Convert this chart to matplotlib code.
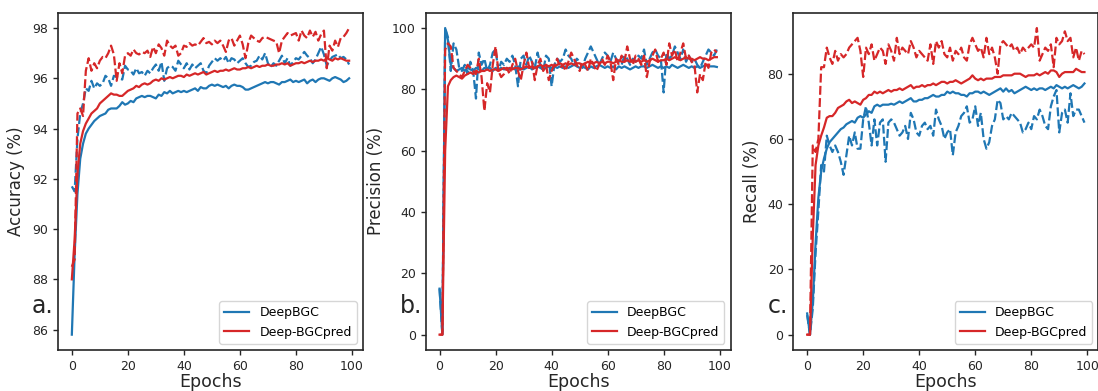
import numpy as np
import matplotlib.pyplot as plt

# epochs
epochs = list(range(100))

# accuracy (%)
acc_deepbgc_train = [85.8, 89.0, 91.4, 92.8, 93.4, 93.8, 94.0, 94.15, 94.3, 94.4,
                     94.5, 94.55, 94.6, 94.75, 94.8, 94.8, 94.8, 94.9, 95.05, 94.95,
                     95.0, 95.1, 95.05, 95.2, 95.25, 95.3, 95.25, 95.3, 95.3, 95.25,
                     95.2, 95.35, 95.3, 95.45, 95.4, 95.5, 95.4, 95.45, 95.5, 95.45,
                     95.5, 95.45, 95.5, 95.55, 95.6, 95.5, 95.65, 95.6, 95.6, 95.7,
                     95.75, 95.7, 95.75, 95.7, 95.65, 95.7, 95.6, 95.7, 95.75, 95.7,
                     95.7, 95.65, 95.55, 95.55, 95.6, 95.65, 95.7, 95.75, 95.8, 95.85,
                     95.8, 95.85, 95.85, 95.8, 95.75, 95.85, 95.85, 95.9, 95.95, 95.85,
                     95.9, 95.85, 95.9, 95.95, 95.8, 95.9, 95.95, 95.85, 95.95, 96.0,
                     96.0, 95.95, 95.9, 96.0, 96.05, 96.0, 95.95, 95.85, 95.9, 96.0]
acc_deepbgc_val = [91.7, 91.5, 93.6, 94.6, 95.0, 95.6, 95.5, 95.9, 95.6, 95.8,
                   95.7, 95.8, 96.1, 96.0, 95.7, 96.1, 96.05, 96.0, 95.95, 96.5,
                   96.35, 96.3, 96.15, 96.4, 96.2, 96.25, 96.1, 96.3, 96.2, 96.4,
                   96.55, 96.3, 96.65, 95.9, 96.4, 96.5, 96.45, 96.3, 96.7, 96.55,
                   96.4, 96.6, 96.35, 96.55, 96.4, 96.5, 96.6, 96.3, 96.2, 96.5,
                   96.65, 96.8, 96.7, 96.8, 96.7, 96.85, 96.6, 96.8, 96.75, 96.6,
                   96.7, 96.8, 96.6, 96.45, 96.5, 96.65, 96.7, 96.9, 96.75, 97.0,
                   96.6, 96.45, 96.6, 96.5, 96.7, 96.9, 96.6, 96.8, 96.5, 96.65,
                   96.8, 96.75, 96.9, 97.05, 96.9, 96.8, 96.6, 96.75, 97.0, 97.25,
                   96.95, 96.5, 96.7, 96.85, 96.9, 96.95, 96.8, 96.85, 96.75, 96.55]
acc_pred_train = [88.0, 89.6, 92.2, 93.4, 93.9, 94.2, 94.4, 94.6, 94.7, 94.8,
                  95.0, 95.1, 95.2, 95.3, 95.4, 95.35, 95.35, 95.3, 95.3, 95.4,
                  95.5, 95.55, 95.6, 95.7, 95.65, 95.75, 95.8, 95.75, 95.8, 95.9,
                  95.95, 95.9, 96.0, 95.95, 96.0, 96.05, 96.0, 96.05, 96.1, 96.1,
                  96.05, 96.15, 96.1, 96.15, 96.2, 96.15, 96.2, 96.25, 96.15, 96.2,
                  96.25, 96.3, 96.25, 96.3, 96.3, 96.35, 96.3, 96.35, 96.4, 96.35,
                  96.35, 96.4, 96.4, 96.45, 96.4, 96.45, 96.5, 96.45, 96.5, 96.5,
                  96.55, 96.5, 96.5, 96.55, 96.55, 96.6, 96.55, 96.6, 96.5, 96.55,
                  96.6, 96.6, 96.65, 96.6, 96.65, 96.7, 96.65, 96.7, 96.7, 96.75,
                  96.7, 96.8, 96.75, 96.7, 96.8, 96.75, 96.8, 96.75, 96.7, 96.7]
acc_pred_val = [88.5, 88.8, 94.6, 94.8, 94.5, 96.3, 96.8, 96.3, 96.6, 96.4,
                96.7, 96.85, 96.8, 97.0, 97.3, 96.95, 95.9, 96.6, 96.2, 96.9,
                97.0, 96.9, 97.15, 97.0, 96.95, 97.05, 97.0, 97.1, 96.85, 97.25,
                97.0, 97.35, 97.2, 96.9, 97.5, 97.3, 97.2, 97.3, 96.9, 97.0,
                97.3, 97.25, 97.4, 97.3, 97.35, 97.3, 97.45, 97.6, 97.4, 97.45,
                97.35, 97.5, 97.4, 97.5, 97.3, 97.05, 97.5, 97.6, 97.3, 97.5,
                97.7, 97.35, 96.8, 97.4, 97.7, 97.6, 97.5, 97.45, 97.6, 97.65,
                97.6, 97.55, 97.5, 97.45, 97.0, 97.5, 97.65, 97.8, 97.7, 97.75,
                97.8, 97.5, 97.9, 97.7, 97.6, 97.9, 97.65, 97.85, 97.5, 97.75,
                97.9, 96.4, 97.3, 97.1, 97.5, 97.25, 97.6, 97.65, 97.8, 98.0]

# precision (%)
prec_deepbgc_train = [15, 0, 100, 96, 88, 87, 86, 86.5, 87, 86,
                      87, 86.5, 86, 87, 86.5, 86, 87, 86.5, 87, 86,
                      87, 86.5, 87, 86.5, 87, 86.5, 87, 86.5, 87.5, 87,
                      86.5, 87, 87.5, 86.5, 87, 87.5, 87, 86.5, 87, 87.5,
                      87, 87.5, 87, 87.5, 87, 87.5, 87, 87.5, 88, 87.5,
                      87, 87.5, 87, 86.5, 87.5, 87, 87.5, 88, 87.5, 87,
                      87.5, 87, 87.5, 86.5, 87.5, 87, 87.5, 87, 86.5, 87,
                      87.5, 87, 87.5, 87.5, 87, 87.5, 88, 87.5, 87, 87.5,
                      87, 87.5, 87, 88, 87.5, 87, 87.5, 88, 87.5, 87,
                      87.5, 87, 87.5, 87, 87.5, 88, 87.5, 87.5, 87.5, 87.3]
prec_deepbgc_val = [15, 0, 100, 97, 86, 95, 93, 87, 86, 88,
                    85, 89, 86, 77, 92, 88, 90, 86, 88, 92,
                    93, 86, 89, 88, 90, 89, 91, 88, 81, 90,
                    91, 88, 91, 89, 87, 92, 88, 86, 91, 90,
                    81, 88, 90, 89, 90, 93, 91, 90, 88, 90,
                    89, 87, 90, 92, 94, 92, 90, 88, 90, 92,
                    91, 89, 92, 90, 89, 88, 91, 90, 88, 90,
                    89, 91, 90, 93, 88, 90, 92, 93, 91, 90,
                    79, 92, 90, 91, 94, 92, 90, 93, 89, 91,
                    89, 90, 88, 87, 89, 91, 93, 92, 91, 93]
prec_pred_train = [0, 0, 60, 81, 83, 84, 84.5, 84, 83.5, 84.5,
                   85, 85.5, 85, 86, 85.5, 86, 86, 86.5, 86, 86.5,
                   86.5, 86, 86.5, 87, 86.5, 87, 86.5, 87, 87, 86.5,
                   87, 87.5, 87, 87.5, 87, 87.5, 88, 87.5, 88, 87.5,
                   88, 87.5, 88, 88.5, 88, 88.5, 88, 88.5, 88, 88.5,
                   88.5, 88, 88.5, 89, 88.5, 88.5, 89, 88.5, 89, 88.5,
                   89, 89, 88.5, 89, 89.5, 89, 89, 89.5, 89, 89.5,
                   89, 89.5, 89, 89.5, 89, 89.5, 90, 89.5, 89, 89.5,
                   89.5, 90, 89.5, 90, 90.5, 90, 89.5, 90, 90.5, 90,
                   90, 89.5, 90, 90.5, 90, 90, 89.5, 90, 90.5, 90.5]
prec_pred_val = [0, 0, 93, 95, 94, 87, 86, 85, 84, 86,
                 88, 87, 86, 85, 90, 84, 73, 82, 79, 88,
                 94, 86, 84, 85, 87, 85, 88, 90, 86, 83,
                 88, 92, 87, 89, 83, 88, 90, 86, 88, 83,
                 86, 88, 90, 87, 88, 86, 89, 92, 90, 88,
                 86, 89, 88, 86, 90, 88, 86, 88, 90, 88,
                 91, 89, 83, 90, 88, 91, 89, 94, 90, 88,
                 91, 90, 88, 91, 84, 89, 91, 93, 89, 90,
                 92, 88, 95, 91, 93, 89, 92, 95, 90, 91,
                 89, 88, 79, 85, 83, 89, 87, 92, 93, 92]

# recall (%)
rec_deepbgc_train = [6.5, 0, 10, 28, 42, 50, 54, 57, 59, 60,
                     61, 62, 63, 63.5, 64.5, 65, 65.5, 65, 66.5, 67,
                     66.5, 67.5, 68.5, 68, 70, 70.5, 70, 70.5, 70.5, 70.5,
                     70.8, 70.5, 71, 71.5, 71, 71.5, 72, 72.5, 71.5, 71.5,
                     72, 72, 72.5, 72.5, 73, 73.5, 73, 73, 73.5, 73.5,
                     74.5, 74, 74.5, 74, 74, 73.5, 73.5, 73, 74, 74,
                     74.5, 74.5, 74, 74.5, 74, 73.5, 74, 74.5, 75, 75.5,
                     74.5, 75.5, 74.5, 75, 74, 74.5, 75, 75.5, 76, 75.5,
                     75, 75.5, 75, 75.5, 75.5, 75, 75.5, 76, 75.5, 76.5,
                     76, 75.5, 76, 75.5, 76, 76.5, 76, 75.5, 76, 77]
rec_deepbgc_val = [6, 0, 8, 25, 38, 52, 50, 61, 58, 56,
                   58, 56, 53, 49, 55, 61, 58, 62, 57, 57,
                   66, 70, 65, 58, 66, 58, 65, 66, 53, 65,
                   66, 65, 63, 61, 62, 64, 60, 68, 66, 62,
                   61, 64, 65, 63, 64, 61, 69, 66, 64, 60,
                   62, 63, 55, 62, 64, 67, 68, 70, 65, 66,
                   70, 64, 68, 60, 57, 59, 64, 66, 72, 71,
                   66, 67, 66, 68, 67, 66, 65, 62, 63, 65,
                   63, 67, 66, 69, 67, 64, 63, 70, 73, 75,
                   62, 68, 69, 65, 74, 67, 69, 69, 67, 65]
rec_pred_train = [0, 0, 30, 52, 58, 61, 63.5, 66.5, 67, 67,
                  68, 69.5, 70, 70.5, 71.5, 72, 71, 71.5, 71, 70.5,
                  72, 72.5, 73.5, 73.5, 74.5, 74, 74.5, 74, 74.5, 75,
                  74.5, 75, 75, 75.5, 75, 75.5, 76, 76.5, 75.5, 76,
                  76, 76.5, 76, 76.5, 76.5, 77, 76.5, 77, 77.5, 77.5,
                  77, 77.5, 77.5, 78, 77.5, 77, 77.5, 78, 78.5, 79.5,
                  78.5, 78, 78.5, 78, 78.5, 78.5, 78.5, 79, 79, 79,
                  79.5, 79.5, 79.5, 79.5, 80, 80, 80, 79.5, 79, 79.5,
                  79.5, 79.5, 80, 79.5, 80, 80.5, 80, 81, 81, 80.5,
                  79, 80, 80.5, 80.5, 80.5, 80.5, 81.5, 81, 80.5, 80.5]
rec_pred_val = [0, 0, 58, 56, 60, 82, 82, 88, 85, 83,
                87, 84, 86, 85, 86, 88, 89, 90, 91, 87,
                79, 88, 86, 89, 84, 86, 88, 87, 83, 89,
                87, 84, 91, 86, 88, 87, 86, 90, 88, 85,
                87, 86, 85, 84, 89, 83, 90, 88, 90, 86,
                85, 88, 84, 87, 86, 88, 85, 84, 89, 91,
                89, 87, 88, 85, 91, 86, 88, 85, 80, 89,
                90, 89, 88, 89, 87, 88, 86, 88, 87, 88,
                89, 88, 94, 84, 86, 88, 87, 89, 82, 91,
                89, 90, 93, 90, 91, 85, 88, 84, 87, 86]

models = ["DeepBGC", "Deep-BGCpred"]
colors = ["#1f77b4", "#d62728"]
ylabels = ["Accuracy (%)", "Precision (%)", "Recall (%)"]
panel_tags = ["a.", "b.", "c."]
panels = [
    (acc_deepbgc_train, acc_deepbgc_val, acc_pred_train, acc_pred_val),
    (prec_deepbgc_train, prec_deepbgc_val, prec_pred_train, prec_pred_val),
    (rec_deepbgc_train, rec_deepbgc_val, rec_pred_train, rec_pred_val),
]

fig = plt.figure(figsize=(10.98, 3.91), dpi=100)
lefts = [0.0528, 0.3877, 0.7225]
dark = "0.15"

for i in range(3):
    ax = fig.add_axes([lefts[i], 0.1049, 0.2778, 0.8626])
    a_tr, a_va, b_tr, b_va = panels[i]
    ax.plot(epochs, a_tr, color=colors[0], lw=1.6, label=models[0])
    ax.plot(epochs, a_va, color=colors[0], lw=1.6, dashes=(4, 1.5))
    ax.plot(epochs, b_tr, color=colors[1], lw=1.6, label=models[1])
    ax.plot(epochs, b_va, color=colors[1], lw=1.6, dashes=(4, 1.5))
    ax.set_xlabel("Epochs", fontsize=12.5, color=dark, labelpad=0.5)
    ax.set_ylabel(ylabels[i], fontsize=12, color=dark, labelpad=5)
    ax.set_xticks([0, 20, 40, 60, 80, 100])
    ax.tick_params(labelsize=9, colors=dark, length=3.5, width=1)
    for s in ax.spines.values():
        s.set_color(dark)
        s.set_linewidth(1.2)
    ax.text(-0.085, 0.13, panel_tags[i], transform=ax.transAxes,
            fontsize=17, color=dark, ha="left", va="center")
    leg = ax.legend(loc="lower right", fontsize=9, frameon=True, fancybox=True)
    leg.get_frame().set_edgecolor("0.8")

fig.savefig("out.png", dpi=100)
